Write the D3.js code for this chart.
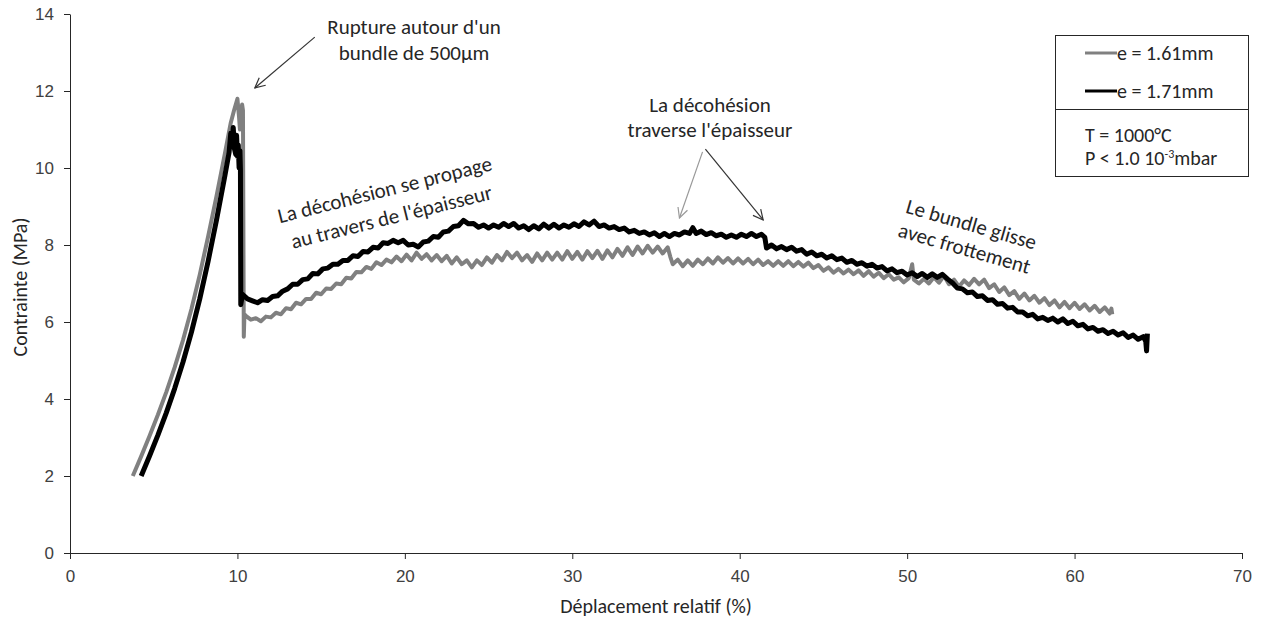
<!DOCTYPE html>
<html>
<head>
<meta charset="utf-8">
<script src="https://cdn.jsdelivr.net/npm/d3@7"></script>
<style>
  body { margin: 0; background: #fff; }
  svg { font-family: Carlito, Calibri, Lato, sans-serif; }
  .axis text { font-size: 17px; fill: #404040; }
  .axis path, .axis line { stroke: #262626; }
</style>
</head>
<body>
<div id="chart"></div>
<script>
// ---- data ----
const seriesNames = ["e = 1.61mm", "e = 1.71mm"];
const xTicks = [0, 10, 20, 30, 40, 50, 60, 70];
const yTicks = [0, 2, 4, 6, 8, 10, 12, 14];

// e = 1.61mm (grey)
const grayPoints = [
  [3.75, 2.0], [4.25, 2.51], [4.75, 3.04], [5.25, 3.59], [5.75, 4.18], [6.25, 4.82], [6.75, 5.53],
  [7.25, 6.33], [7.75, 7.23], [8.25, 8.22], [8.75, 9.27], [9.25, 10.37], [9.6, 11.17], [9.8, 11.5],
  [10.0, 11.8], [10.1, 11.3], [10.15, 11.0], [10.22, 11.45], [10.28, 11.65], [10.33, 11.5],
  [10.36, 8.0], [10.38, 5.62], [10.42, 6.2],
  [10.5, 6.16], [10.8, 6.06], [11.1, 6.1], [11.4, 6.02], [11.7, 6.14], [12.0, 6.12], [12.3, 6.24],
  [12.6, 6.2], [12.9, 6.36], [13.2, 6.33], [13.5, 6.5], [13.8, 6.46], [14.1, 6.6], [14.4, 6.6],
  [14.7, 6.76], [15.0, 6.72], [15.3, 6.87], [15.6, 6.86], [15.9, 7.0], [16.2, 6.98], [16.5, 7.15],
  [16.8, 7.13], [17.1, 7.3], [17.4, 7.29], [17.7, 7.43], [18.0, 7.38], [18.3, 7.55], [18.6, 7.48],
  [18.9, 7.62], [19.2, 7.55], [19.5, 7.7], [19.8, 7.58], [20.1, 7.75], [20.4, 7.6], [20.7, 7.8],
  [21.0, 7.64], [21.3, 7.76], [21.6, 7.6], [21.9, 7.74], [22.2, 7.58], [22.5, 7.72], [22.8, 7.52],
  [23.1, 7.68], [23.4, 7.5], [23.7, 7.6], [24.0, 7.42], [24.3, 7.6], [24.6, 7.48], [24.9, 7.68],
  [25.2, 7.54], [25.5, 7.74], [25.8, 7.6], [26.1, 7.82], [26.4, 7.66], [26.7, 7.8], [27.0, 7.6],
  [27.3, 7.74], [27.6, 7.56], [27.9, 7.78], [28.2, 7.6], [28.5, 7.8], [28.8, 7.62], [29.1, 7.8],
  [29.4, 7.62], [29.7, 7.84], [30.0, 7.64], [30.3, 7.82], [30.6, 7.62], [30.9, 7.84], [31.2, 7.66],
  [31.5, 7.85], [31.8, 7.64], [32.1, 7.86], [32.4, 7.68], [32.7, 7.9], [33.0, 7.72], [33.3, 7.94],
  [33.6, 7.74], [33.9, 7.96], [34.2, 7.78], [34.5, 7.98], [34.8, 7.8], [35.1, 7.96], [35.4, 7.78],
  [35.7, 7.94], [35.85, 7.7], [36.0, 7.5], [36.3, 7.62], [36.6, 7.45], [36.9, 7.6], [37.2, 7.46],
  [37.5, 7.62], [37.8, 7.5], [38.1, 7.65], [38.4, 7.52], [38.7, 7.68], [39.0, 7.54], [39.3, 7.66],
  [39.6, 7.52], [39.9, 7.65], [40.2, 7.52], [40.5, 7.64], [40.8, 7.5], [41.1, 7.62], [41.4, 7.48],
  [41.7, 7.58], [42.0, 7.46], [42.3, 7.58], [42.6, 7.46], [42.9, 7.58], [43.2, 7.45], [43.5, 7.56],
  [43.8, 7.44], [44.1, 7.54], [44.4, 7.4], [44.7, 7.48], [45.0, 7.33], [45.3, 7.42], [45.6, 7.28],
  [45.9, 7.38], [46.2, 7.26], [46.5, 7.36], [46.8, 7.24], [47.1, 7.34], [47.4, 7.2], [47.7, 7.32],
  [48.0, 7.18], [48.3, 7.28], [48.6, 7.14], [48.9, 7.24], [49.2, 7.1], [49.5, 7.16], [49.8, 7.03],
  [50.1, 7.14], [50.3, 7.5], [50.4, 7.1], [50.7, 7.0], [51.0, 7.12], [51.3, 7.0], [51.6, 7.16],
  [51.9, 7.02], [52.2, 7.2], [52.5, 6.98], [52.8, 7.1], [53.1, 6.92], [53.4, 7.08], [53.7, 6.96],
  [54.0, 7.12], [54.3, 6.98], [54.6, 7.1], [54.9, 6.88], [55.2, 6.98], [55.5, 6.78], [55.8, 6.9],
  [56.1, 6.7], [56.4, 6.8], [56.7, 6.6], [57.0, 6.74], [57.3, 6.56], [57.6, 6.68], [57.9, 6.5],
  [58.2, 6.62], [58.5, 6.44], [58.8, 6.56], [59.1, 6.38], [59.4, 6.52], [59.7, 6.36], [60.0, 6.5],
  [60.3, 6.34], [60.6, 6.46], [60.9, 6.3], [61.2, 6.42], [61.5, 6.26], [61.8, 6.38], [62.1, 6.22],
  [62.2, 6.35], [62.25, 6.2]
];

// e = 1.71mm (black)
const blackPoints = [
  [4.25, 2.0], [4.75, 2.52], [5.25, 3.06], [5.75, 3.64], [6.25, 4.27], [6.75, 4.96], [7.25, 5.73],
  [7.75, 6.6], [8.25, 7.58], [8.75, 8.65], [9.25, 9.8], [9.5, 10.4], [9.6, 10.9], [9.7, 10.75],
  [9.75, 11.05], [9.82, 10.5], [9.9, 10.35], [9.95, 10.85], [10.0, 10.3], [10.05, 10.6],
  [10.1, 10.0], [10.15, 10.45], [10.18, 9.95], [10.2, 6.45],
  [10.3, 6.72], [10.6, 6.6], [10.9, 6.55], [11.2, 6.5], [11.5, 6.58], [11.8, 6.56], [12.1, 6.66],
  [12.4, 6.68], [12.7, 6.8], [13.0, 6.86], [13.3, 6.98], [13.6, 6.98], [13.9, 7.1], [14.2, 7.12],
  [14.5, 7.26], [14.8, 7.25], [15.1, 7.38], [15.4, 7.4], [15.7, 7.5], [16.0, 7.5], [16.3, 7.6],
  [16.6, 7.6], [16.9, 7.72], [17.2, 7.7], [17.5, 7.83], [17.8, 7.82], [18.1, 7.94], [18.4, 7.92],
  [18.7, 8.06], [19.0, 8.04], [19.3, 8.12], [19.6, 8.06], [19.9, 8.12], [20.2, 8.0], [20.5, 8.02],
  [20.8, 7.95], [21.1, 8.08], [21.4, 8.1], [21.7, 8.22], [22.0, 8.2], [22.3, 8.34], [22.6, 8.36],
  [22.9, 8.48], [23.2, 8.5], [23.5, 8.64], [23.8, 8.55], [24.1, 8.56], [24.4, 8.46], [24.7, 8.52],
  [25.0, 8.44], [25.3, 8.52], [25.6, 8.46], [25.9, 8.56], [26.2, 8.48], [26.5, 8.56], [26.8, 8.44],
  [27.1, 8.5], [27.4, 8.4], [27.7, 8.5], [28.0, 8.42], [28.3, 8.54], [28.6, 8.44], [28.9, 8.54],
  [29.2, 8.44], [29.5, 8.52], [29.8, 8.46], [30.1, 8.55], [30.4, 8.48], [30.7, 8.6], [31.0, 8.52],
  [31.3, 8.62], [31.6, 8.48], [31.9, 8.52], [32.2, 8.44], [32.5, 8.48], [32.8, 8.4], [33.1, 8.44],
  [33.4, 8.34], [33.7, 8.38], [34.0, 8.3], [34.3, 8.34], [34.6, 8.26], [34.9, 8.32], [35.2, 8.22],
  [35.5, 8.3], [35.8, 8.22], [36.1, 8.3], [36.4, 8.26], [36.7, 8.34], [37.0, 8.3], [37.2, 8.45],
  [37.4, 8.3], [37.7, 8.36], [38.0, 8.27], [38.3, 8.32], [38.6, 8.24], [38.9, 8.28], [39.2, 8.2],
  [39.5, 8.26], [39.8, 8.2], [40.1, 8.28], [40.4, 8.22], [40.7, 8.3], [41.0, 8.22], [41.3, 8.28],
  [41.5, 8.2], [41.6, 7.92], [41.9, 8.0], [42.2, 7.9], [42.5, 7.96], [42.8, 7.88], [43.1, 7.94],
  [43.4, 7.84], [43.7, 7.88], [44.0, 7.76], [44.3, 7.82], [44.6, 7.72], [44.9, 7.76], [45.2, 7.66],
  [45.5, 7.72], [45.8, 7.62], [46.1, 7.66], [46.4, 7.55], [46.7, 7.6], [47.0, 7.5], [47.3, 7.54],
  [47.6, 7.45], [47.9, 7.5], [48.2, 7.4], [48.5, 7.44], [48.8, 7.33], [49.1, 7.38], [49.4, 7.28],
  [49.7, 7.32], [50.0, 7.22], [50.3, 7.28], [50.6, 7.18], [50.9, 7.26], [51.2, 7.16], [51.5, 7.25],
  [51.8, 7.16], [52.1, 7.24], [52.4, 7.12], [52.7, 7.02], [53.0, 6.88], [53.3, 6.86], [53.6, 6.76],
  [53.9, 6.78], [54.2, 6.66], [54.5, 6.68], [54.8, 6.56], [55.1, 6.58], [55.4, 6.46], [55.7, 6.48],
  [56.0, 6.36], [56.3, 6.38], [56.6, 6.26], [56.9, 6.26], [57.2, 6.16], [57.5, 6.2], [57.8, 6.08],
  [58.1, 6.12], [58.4, 6.04], [58.7, 6.1], [59.0, 6.0], [59.3, 6.08], [59.6, 5.96], [59.9, 6.02],
  [60.2, 5.9], [60.5, 5.94], [60.8, 5.82], [61.1, 5.86], [61.4, 5.76], [61.7, 5.8], [62.0, 5.7],
  [62.3, 5.76], [62.6, 5.66], [62.9, 5.72], [63.2, 5.6], [63.5, 5.66], [63.8, 5.55], [64.1, 5.62],
  [64.25, 5.5], [64.3, 5.25], [64.35, 5.7]
];

// ---- layout ----
const W = 1263, H = 621;
const svg = d3.select("#chart").append("svg")
  .attr("width", W).attr("height", H);

const x = d3.scaleLinear().domain([0, 70]).range([70, 1242]);
const y = d3.scaleLinear().domain([0, 14]).range([553, 14]);

// axes
svg.append("g")
  .attr("class", "axis")
  .attr("transform", "translate(0,553)")
  .call(d3.axisBottom(x).tickValues(xTicks).tickSizeInner(6).tickSizeOuter(0).tickPadding(11));

svg.append("g")
  .attr("class", "axis")
  .attr("transform", "translate(70,0)")
  .call(d3.axisLeft(y).tickValues(yTicks).tickSizeInner(6).tickSizeOuter(0).tickPadding(10));

// axis titles
svg.append("text")
  .attr("x", 656).attr("y", 613)
  .attr("text-anchor", "middle")
  .style("font-size", "20px").style("fill", "#262626")
  .text("Déplacement relatif (%)");

svg.append("text")
  .attr("transform", "translate(27,287) rotate(-90)")
  .attr("text-anchor", "middle")
  .style("font-size", "20px").style("fill", "#262626")
  .text("Contrainte (MPa)");

// curves
const line = d3.line().x(d => x(d[0])).y(d => y(d[1]));

svg.append("path")
  .datum(grayPoints)
  .attr("fill", "none")
  .attr("stroke", "#808080")
  .attr("stroke-width", 4)
  .attr("stroke-linejoin", "round")
  .attr("d", line);

svg.append("path")
  .datum(blackPoints)
  .attr("fill", "none")
  .attr("stroke", "#000")
  .attr("stroke-width", 5)
  .attr("stroke-linejoin", "round")
  .attr("d", line);

// arrow markers (open V head)
const defs = svg.append("defs");
function addMarker(id, color) {
  defs.append("marker")
    .attr("id", id)
    .attr("viewBox", "0 0 12 12")
    .attr("refX", 11).attr("refY", 6)
    .attr("markerWidth", 12).attr("markerHeight", 12)
    .attr("markerUnits", "userSpaceOnUse")
    .attr("orient", "auto")
    .append("path")
    .attr("d", "M1,1 L11,6 L1,11")
    .attr("fill", "none")
    .attr("stroke", color)
    .attr("stroke-width", 1.2);
}
addMarker("arrDark", "#333");
addMarker("arrGray", "#999");

function arrow(x1, y1, x2, y2, color, marker) {
  svg.append("line")
    .attr("x1", x(x1)).attr("y1", y(y1))
    .attr("x2", x(x2)).attr("y2", y(y2))
    .attr("stroke", color).attr("stroke-width", 1.2)
    .attr("marker-end", `url(#${marker})`);
}

arrow(14.62, 13.4, 11.04, 12.08, "#333", "arrDark");
arrow(37.78, 10.42, 36.4, 8.7, "#999", "arrGray");
arrow(37.95, 10.49, 41.4, 8.65, "#333", "arrDark");

// annotation texts
function note(lines, cx, cy, angle, lh) {
  const t = svg.append("text")
    .attr("transform", `translate(${cx},${cy}) rotate(${angle})`)
    .attr("text-anchor", "middle")
    .style("font-size", "21px").style("fill", "#262626");
  lines.forEach((s, i) => {
    t.append("tspan")
      .attr("x", 0)
      .attr("y", (i - (lines.length - 1) / 2) * lh)
      .attr("dy", "0.35em")
      .text(s);
  });
}

note(["Rupture autour d'un", "bundle de 500µm"], 414, 40, 0, 26);
note(["La décohésion se propage", "au travers de l'épaisseur"], 388, 203, -14, 28);
note(["La décohésion", "traverse l'épaisseur"], 710, 117, 0, 25);
note(["Le bundle glisse", "avec frottement"], 968, 236, 16, 25);

// legend box
const lg = svg.append("g");
lg.append("rect")
  .attr("x", 1055.5).attr("y", 35.5)
  .attr("width", 193).attr("height", 141)
  .attr("fill", "#fff").attr("stroke", "#262626");
lg.append("line")
  .attr("x1", 1055.5).attr("x2", 1248.5)
  .attr("y1", 109.5).attr("y2", 109.5)
  .attr("stroke", "#262626");

const legendColors = ["#808080", "#000"];
seriesNames.forEach((name, i) => {
  const ly = 53 + i * 38;
  lg.append("line")
    .attr("x1", 1085).attr("x2", 1117)
    .attr("y1", ly).attr("y2", ly)
    .attr("stroke", legendColors[i]).attr("stroke-width", 3);
  lg.append("text")
    .attr("x", 1117).attr("y", ly)
    .attr("dy", "0.35em")
    .style("font-size", "20px").style("fill", "#262626")
    .text(name);
});

lg.append("text")
  .attr("x", 1085).attr("y", 135).attr("dy", "0.35em")
  .style("font-size", "20px").style("fill", "#262626")
  .text("T = 1000°C");

const pt = lg.append("text")
  .attr("x", 1085).attr("y", 158).attr("dy", "0.35em")
  .style("font-size", "20px").style("fill", "#262626");
pt.append("tspan").text("P < 1.0 10");
pt.append("tspan").attr("dy", "-7").style("font-size", "12px").text("-3");
pt.append("tspan").attr("dy", "7").text("mbar");
</script>
</body>
</html>
